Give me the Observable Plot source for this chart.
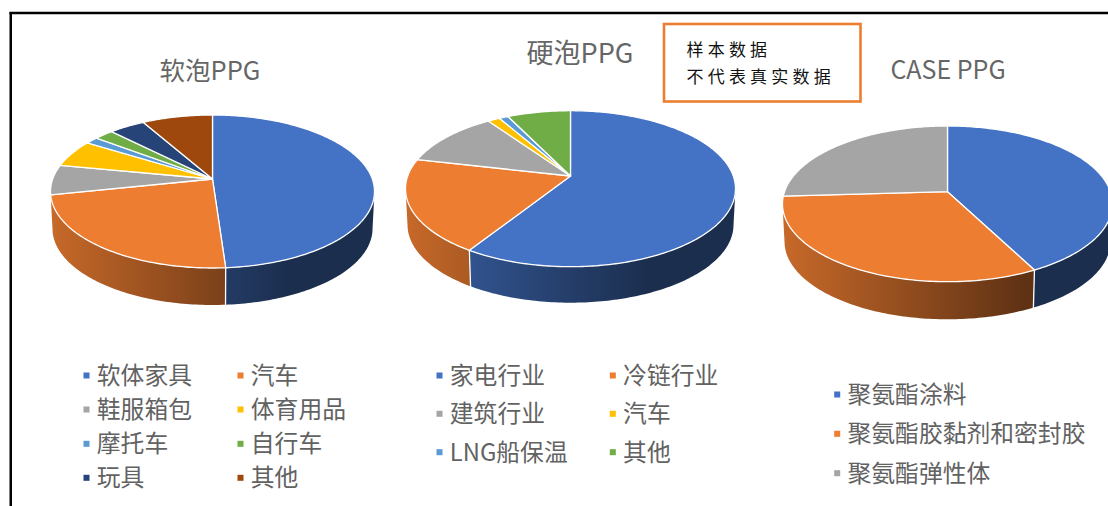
<!DOCTYPE html>
<html>
<head>
<meta charset="utf-8">
<script src="https://cdn.jsdelivr.net/npm/d3@7"></script>
<script src="https://cdn.jsdelivr.net/npm/@observablehq/plot@0.6"></script>
<style>
html,body{margin:0;padding:0;background:#fff;overflow:hidden}
svg{display:block}
</style>
</head>
<body>
<div id="chart"></div>
<script>
// ---- data (percent shares) ----
const softCategories = ["软体家具","汽车","鞋服箱包","体育用品","摩托车","自行车","玩具","其他"];
const softShares = [48.9,22.8,6.3,5.8,1.5,2.25,4.2,8.25];
const rigidCategories = ["家电行业","冷链行业","建筑行业","汽车","LNG船保温","其他"];
const rigidShares = [59,19.6,11.7,1.4,1.05,7.25];
const caseCategories = ["聚氨酯涂料","聚氨酯胶黏剂和密封胶","聚氨酯弹性体"];
const caseShares = [42.4,31.7,25.9];
const titles = ["软泡PPG","硬泡PPG","CASE PPG"];
const noteLines = ["样本数据","不代表真实数据"];
const softColors = ["#4472c4","#ed7d31","#a5a5a5","#ffc000","#5b9bd5","#70ad47","#264478","#9e480e"];
const rigidColors = ["#4472c4","#ed7d31","#a5a5a5","#ffc000","#5b9bd5","#70ad47"];
const caseColors = ["#4472c4","#ed7d31","#a5a5a5"];

// ---- layout ----
const W = 1108, H = 506;
const CJK = "'Noto Sans CJK SC','Noto Sans',sans-serif";
const pies = [
  {title:titles[0], tx:209.5, ty:71, fs:25.5, shares:softShares, colors:softColors, cats:softCategories,
   hx:212, hy:178.5, half:162, far:64, near:89, depth:37,
   markers:[86,240], rows:[376,410,444.3,478.3]},
  {title:titles[1], tx:579.5, ty:54, fs:27, shares:rigidShares, colors:rigidColors, cats:rigidCategories,
   hx:570, hy:175.5, half:165, far:65.3, near:90.7, depth:36,
   markers:[439,612.3], rows:[376,414.3,452.7]},
  {title:titles[2], tx:947.5, ty:70, fs:25, shares:caseShares, colors:caseColors, cats:caseCategories,
   hx:947, hy:191.2, half:165, far:65.7, near:90, depth:37.6,
   markers:[836.7], rows:[395,434.3,473.7]}
];

const faces = [], wall = [], seams = [], legendRows = [], gradients = [];
let seq = 0;
const scaled = (color, f) => {
  const rgb = d3.rgb(color);
  return d3.rgb(rgb.r * f, rgb.g * f, rgb.b * f).formatHex();
};
pies.forEach((p, pi) => {
  const c = (p.near - p.far) / (p.near + p.far);
  const b = p.near * (1 - c);
  const a = p.half * Math.sqrt(1 - c * c);
  const proj = (deg, dz = 0, s = 1) => {
    const r = deg * Math.PI / 180, u = Math.sin(r), v = -Math.cos(r), w = 1 - c * v;
    return {px: p.hx + s * a * u / w, py: p.hy + b * v / w + dz};
  };
  const shrink = 0.988;
  const lo = Math.acos(-c) * 180 / Math.PI, hi = 360 - lo - 3;
  const total = d3.sum(p.shares);
  let start = 0;
  p.shares.forEach((val, i) => {
    const end = start + val / total * 360;
    const color = p.colors[i];
    const cols = p.markers.length;
    legendRows.push({label: p.cats[i], color, mx: p.markers[i % cols], tx: p.markers[i % cols] + 10.3, my: p.rows[Math.floor(i / cols)]});
    // top face
    const id = "t" + (seq++);
    const n = Math.max(2, Math.ceil(end - start));
    faces.push({id, color, px: p.hx, py: p.hy});
    for (let k = 0; k <= n; k++) faces.push({id, color, ...proj(start + (end - start) * k / n)});
    faces.push({id, color, px: p.hx, py: p.hy});
    // side wall with a shading gradient that runs across the whole pie
    const a0 = Math.max(start, lo), a1 = Math.min(end, hi);
    if (a1 > a0) {
      const gid = `wall-${pi}-${i}`;
      gradients.push({gid, x1: p.hx - p.half, x2: p.hx + p.half, light: scaled(color, 0.84), dark: scaled(color, 0.4)});
      const wid = "w" + (seq++), fill = `url(#${gid})`;
      const m = Math.max(2, Math.ceil(a1 - a0));
      for (let k = 0; k <= m; k++) wall.push({id: wid, color: fill, ...proj(a0 + (a1 - a0) * k / m)});
      for (let k = m; k >= 0; k--) wall.push({id: wid, color: fill, ...proj(a0 + (a1 - a0) * k / m, p.depth, shrink)});
    }
    // white seam where two slices meet on the wall
    if (end > lo && end < hi) {
      const sid = "s" + (seq++);
      seams.push({id: sid, ...proj(end)});
      seams.push({id: sid, ...proj(end, p.depth, shrink)});
    }
    start = end;
  });
});

const gradientDefs = () => {
  const defs = d3.create("svg:defs");
  gradients.forEach(g => {
    const lg = defs.append("linearGradient").attr("id", g.gid).attr("gradientUnits", "userSpaceOnUse")
      .attr("x1", g.x1).attr("x2", g.x2).attr("y1", 0).attr("y2", 0);
    lg.append("stop").attr("offset", "0").attr("stop-color", g.light);
    lg.append("stop").attr("offset", "0.733").attr("stop-color", g.dark);
    lg.append("stop").attr("offset", "1").attr("stop-color", g.dark);
  });
  return defs.node();
};

const spaced = (px) => (i, s, v, d, c, next) => {
  const g = next(i, s, v, d, c);
  g.style.letterSpacing = px;
  return g;
};

const chart = Plot.plot({
  width: W, height: H,
  margin: 0,
  x: {domain: [0, W], range: [0, W], axis: null},
  y: {domain: [0, H], range: [0, H], axis: null},
  color: {type: "identity"},
  style: {background: "#fff"},
  marks: [
    gradientDefs,
    // frame
    Plot.ruleY([12.5], {x1: 9.5, x2: W, stroke: "#000", strokeWidth: 2.5}),
    Plot.ruleX([10.25], {y1: 12, y2: H, stroke: "#000", strokeWidth: 2.5}),
    // pies
    Plot.line(wall, {x: "px", y: "py", z: "id", fill: "color", stroke: "none", curve: "linear"}),
    Plot.line(seams, {x: "px", y: "py", z: "id", stroke: "#fff", strokeWidth: 1.3, curve: "linear"}),
    Plot.line(faces, {x: "px", y: "py", z: "id", fill: "color", stroke: "#fff", strokeWidth: 1.3, curve: "linear"}),
    // titles
    Plot.text(pies, {x: "tx", y: "ty", text: "title", fontFamily: CJK, fontSize: "fs", fill: "#666", textAnchor: "middle", lineAnchor: "middle"}),
    // legends
    Plot.dot(legendRows, {x: "mx", y: d => d.my - 1, fill: "color", symbol: "square", r: 3.4}),
    Plot.text(legendRows, {x: "tx", y: "my", text: "label", fontFamily: CJK, fontSize: 23.8, fill: "#626262", textAnchor: "start", lineAnchor: "middle"}),
    // note box
    Plot.rect([0], {x1: () => 664, x2: () => 860.5, y1: () => 24, y2: () => 101.5, fill: "#fff", stroke: "#ed7d31", strokeWidth: 2.6}),
    Plot.text(noteLines, {x: () => 686, y: (d, i) => [50, 77][i], text: d => d, fontFamily: "'Noto Sans CJK SC',serif", fontSize: 17, fill: "#111", textAnchor: "start", lineAnchor: "middle", render: spaced("4.2px")})
  ]
});
document.getElementById("chart").append(chart);
</script>
</body>
</html>
